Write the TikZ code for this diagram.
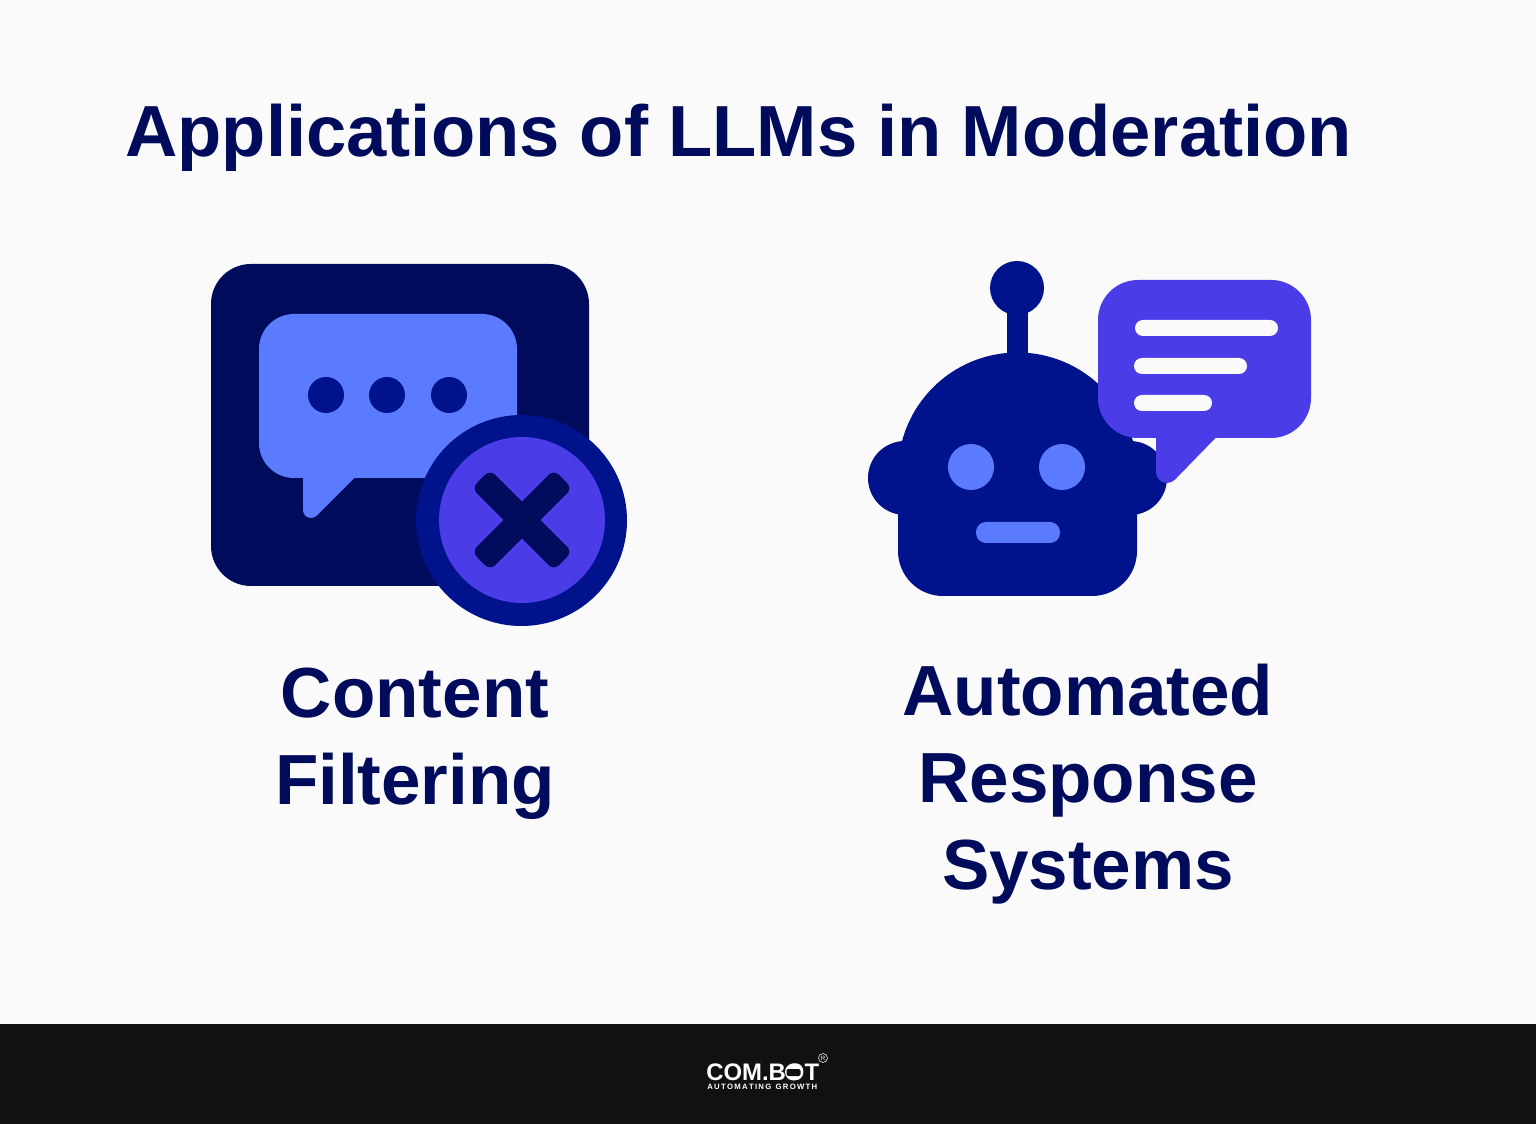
\documentclass[tikz,border=0pt]{standalone}
\usepackage{fontspec}
\usepackage{color}
\setmainfont{Liberation Sans}
\definecolor{pagebg}{HTML}{FAFAFA}
\definecolor{footbg}{HTML}{111111}
\definecolor{navy}{HTML}{000B5C}
\definecolor{royal}{HTML}{00128C}
\definecolor{violet}{HTML}{4A3DE8}
\definecolor{sky}{HTML}{5B7BFF}
\begin{document}
\begin{tikzpicture}[x=0.02cm,y=0.02cm]
\tikzstyle{every node}+=[inner sep=0pt]
\tikzstyle{heading}=[text=navy,font=\fontsize{41.2pt}{50pt}\selectfont\bfseries,anchor=base west]
\tikzstyle{caption}=[text=navy,font=\fontsize{40.4pt}{49.6pt}\selectfont\bfseries,align=center,anchor=base]
\fill [pagebg] (0,0) rectangle (1536,-1124);
\fill [footbg] (0,-1024) rectangle (1536,-1124);
\node [heading] (title) at (125,-157) {Applications of LLMs in Moderation};
\fill [navy,rounded corners=0.8cm] (211,-264) rectangle (589,-586);
\fill [sky,rounded corners=0.7cm] (259,-314) rectangle (517,-478);
\fill [sky] (303,-470) -- (303,-510) arc (180:315:8) -- (355,-477.5) -- (355,-470) -- cycle;
\fill [royal] (326,-395) circle (18);
\fill [royal] (387,-395) circle (18);
\fill [royal] (449,-395) circle (18);
\fill [royal] (521.5,-520.5) circle (105.5);
\fill [violet] (522,-520) circle (83);
\fill [navy,rounded corners=0.14cm,rotate around={45:(522,-520)}] (464,-533) rectangle (580,-507);
\fill [navy,rounded corners=0.14cm,rotate around={-45:(522,-520)}] (464,-533) rectangle (580,-507);
\node [caption] (filter) at (415,-805) {Content\\Filtering};
\fill [royal] (1007,-290) rectangle (1028,-360);
\fill [royal] (1017,-288) circle (27);
\fill [royal] (905,-478) circle (37);
\fill [royal] (1130,-478) circle (37);
\fill [royal] (898,-472) arc (180:0:119.5) -- (1137,-551) arc (0:-90:45) -- (943,-596) arc (-90:-180:45) -- cycle;
\fill [sky] (971,-467) circle (23);
\fill [sky] (1062,-467) circle (23);
\fill [sky,rounded corners=0.2cm] (976,-522) rectangle (1060,-543);
\fill [violet,rounded corners=0.8cm] (1098,-280) rectangle (1311,-438);
\fill [violet] (1156,-430) -- (1156,-472) arc (180:315:11) -- (1216,-437.5) -- (1216,-430) -- cycle;
\fill [pagebg,rounded corners=0.16cm] (1135,-320) rectangle (1278,-336);
\fill [pagebg,rounded corners=0.16cm] (1134,-358) rectangle (1247,-374);
\fill [pagebg,rounded corners=0.16cm] (1134,-395) rectangle (1212,-411);
\node [caption] (respond) at (1088,-890) {Automated\\Response\\Systems};
\node [text=white,font=\fontsize{13.6pt}{14pt}\selectfont\bfseries,anchor=base west] (brand) at (706,-1080) {COM.BOT};
\fill [white] (793.5,-1072) circle (8.5);
\fill [footbg,rounded corners=0.04cm] (786.5,-1076) rectangle (800.5,-1069);
\node [text=white,font=\fontsize{4.4pt}{5pt}\selectfont\bfseries,anchor=base west] (motto) at (707,-1090) {A\,U\,T\,O\,M\,A\,T\,I\,N\,G\ \ G\,R\,O\,W\,T\,H};
\draw [white,line width=0.3pt] (823,-1058) circle (4.5);
\node [text=white,font=\fontsize{3.5pt}{4pt}\selectfont] (mark) at (823,-1058) {R};
\end{tikzpicture}
\end{document}
